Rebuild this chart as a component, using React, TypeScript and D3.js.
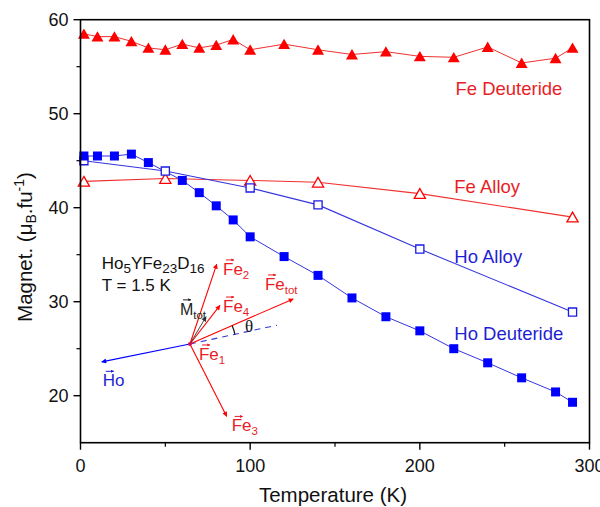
import React from 'react'
import * as d3 from 'd3'

const feDeutT = [2, 10, 20, 30, 40, 50, 60, 70, 80, 90, 100, 120, 140, 160, 180, 200, 220, 240, 260, 280, 290]
const feDeutM = [58.5, 58.2, 58.2, 57.7, 57.0, 56.8, 57.4, 57.0, 57.3, 57.9, 56.8, 57.4, 56.8, 56.3, 56.6, 56.1, 56.0, 57.1, 55.4, 55.9, 57.0]
const hoDeutT = [2, 10, 20, 30, 40, 60, 70, 80, 90, 100, 120, 140, 160, 180, 200, 220, 240, 260, 280, 290]
const hoDeutM = [45.5, 45.5, 45.5, 45.7, 44.8, 42.9, 41.6, 40.2, 38.7, 36.9, 34.8, 32.8, 30.4, 28.4, 26.9, 25.0, 23.5, 21.9, 20.4, 19.3]
const alloyT = [2, 50, 100, 140, 200, 290]
const hoAlloyM = [45.0, 43.9, 42.1, 40.3, 35.6, 28.9]
const feAlloyM = [42.8, 43.1, 42.9, 42.7, 41.5, 39.0]

const xTicks = [0, 100, 200, 300]
const xMinor = [50, 150, 250]
const yTicks = [20, 30, 40, 50, 60]
const yMinor = [25, 35, 45, 55]

// inset spin diagram, in data units
const insetOrigin: [number, number] = [64.5, 25.5]
const insetArrows = [
  { tip: [12.5, 23.6], kind: 'blue' },
  { tip: [80.3, 34.0], kind: 'red' },
  { tip: [82.2, 29.6], kind: 'red' },
  { tip: [125.4, 30.3], kind: 'red' },
  { tip: [86.2, 17.8], kind: 'red' },
  { tip: [74.0, 28.4], kind: 'dark' },
]
const dashTip: [number, number] = [115.8, 27.5]
const vecLabels = [
  { base: 'Fe', sub: '2', at: [84.0, 32.85], kind: 'red' },
  { base: 'Fe', sub: 'tot', at: [108.7, 31.25], kind: 'red' },
  { base: 'Fe', sub: '4', at: [84.0, 28.9], kind: 'red' },
  { base: 'Fe', sub: '1', at: [69.8, 23.8], kind: 'red' },
  { base: 'Fe', sub: '3', at: [89.1, 16.2], kind: 'red' },
  { base: 'Ho', sub: '', at: [13.1, 21.0], kind: 'blue' },
  { base: 'M', sub: 'tot', at: [58.6, 28.6], kind: 'dark' },
]
const seriesLabels = [
  { text: 'Fe Deuteride', at: [221, 52.0], kind: 'red' },
  { text: 'Fe Alloy', at: [220.3, 41.6], kind: 'red' },
  { text: 'Ho Alloy', at: [220.3, 34.15], kind: 'blue' },
  { text: 'Ho Deuteride', at: [220.3, 25.9], kind: 'blue' },
]

const W = 600
const H = 507
const margin = { top: 19.7, right: 10.5, bottom: 64.3, left: 80.5 }
const font = 'Liberation Sans, Arial, sans-serif'

const colors: Record<string, string> = { red: '#ff0000', blue: '#0000ff', dark: '#333333' }
const textColors: Record<string, string> = { red: '#e81e26', blue: '#1f1fd2', dark: '#222222' }

export default function App() {
  const x = d3.scaleLinear().domain([0, 300]).range([margin.left, W - margin.right])
  const y = d3.scaleLinear().domain([15, 60]).range([H - margin.bottom, margin.top])
  const line = d3.line<[number, number]>().x(d => x(d[0])).y(d => y(d[1]))

  const feDeut = feDeutT.map((t, i) => [t, feDeutM[i]] as [number, number])
  const hoDeut = hoDeutT.map((t, i) => [t, hoDeutM[i]] as [number, number])
  const hoAlloy = alloyT.map((t, i) => [t, hoAlloyM[i]] as [number, number])
  const feAlloy = alloyT.map((t, i) => [t, feAlloyM[i]] as [number, number])

  const tri = d3.symbol(d3.symbolTriangle, 62)()
  const triOpen = d3.symbol(d3.symbolTriangle, 54)()
  const sq = d3.symbol(d3.symbolSquare, 81)()
  const sqOpen = d3.symbol(d3.symbolSquare, 66)()

  const ox = x(insetOrigin[0])
  const oy = y(insetOrigin[1])
  // theta arc between dashed axis and Fe_tot
  const r = 46
  const a1 = Math.atan2(y(dashTip[1]) - oy, x(dashTip[0]) - ox)
  const tot = insetArrows[3].tip
  const a2 = Math.atan2(y(tot[1]) - oy, x(tot[0]) - ox)
  const arcPath = `M${ox + r * Math.cos(a1)},${oy + r * Math.sin(a1)} A${r},${r} 0 0 0 ${ox + r * Math.cos(a2)},${oy + r * Math.sin(a2)}`

  const x0 = margin.left
  const x1 = W - margin.right
  const y0 = H - margin.bottom
  const y1 = margin.top

  return (
    <svg width={W} height={H} style={{ display: 'block', position: 'absolute', left: 0, top: 0 }} fontFamily={font}>
      <defs>
        {Object.keys(colors).map(k => (
          <marker key={k} id={'head-' + k} viewBox="0 0 10 10" refX="9" refY="5" markerWidth="7" markerHeight="5"
            markerUnits="userSpaceOnUse" orient="auto">
            <path d="M0,0 L10,5 L0,10 z" fill={colors[k]} />
          </marker>
        ))}
        {Object.keys(colors).map(k => (
          <marker key={k} id={'small-' + k} viewBox="0 0 10 10" refX="9" refY="5" markerWidth="4" markerHeight="3"
            markerUnits="userSpaceOnUse" orient="auto">
            <path d="M0,0 L10,5 L0,10 z" fill={textColors[k]} />
          </marker>
        ))}
      </defs>
      <rect width={W} height={H} fill="#fff" />

      {/* lines */}
      <path d={line(feDeut) || ''} fill="none" stroke="#f03030" strokeWidth={1} />
      <path d={line(feAlloy) || ''} fill="none" stroke="#f03030" strokeWidth={1.1} />
      <path d={line(hoAlloy) || ''} fill="none" stroke="#3535e0" strokeWidth={1.1} />
      <path d={line(hoDeut) || ''} fill="none" stroke="#3535e0" strokeWidth={1} />

      {/* markers */}
      {feDeut.map((d, i) => (
        <path key={'fd' + i} d={tri || ''} transform={`translate(${x(d[0])},${y(d[1]) + 1.5})`} fill="#ff0000" />
      ))}
      {feAlloy.map((d, i) => (
        <path key={'fa' + i} d={triOpen || ''} transform={`translate(${x(d[0])},${y(d[1]) + 1.5})`} fill="#fff" stroke="#ff0000" strokeWidth={1.3} />
      ))}
      {hoAlloy.map((d, i) => (
        <path key={'ha' + i} d={sqOpen || ''} transform={`translate(${x(d[0])},${y(d[1])})`} fill="#fff" stroke="#1a1ae6" strokeWidth={1.3} />
      ))}
      {hoDeut.map((d, i) => (
        <path key={'hd' + i} d={sq || ''} transform={`translate(${x(d[0])},${y(d[1])})`} fill="#0000ff" />
      ))}

      {/* series labels */}
      {seriesLabels.map(s => (
        <text key={s.text} x={x(s.at[0])} y={y(s.at[1])} fontSize={18.5} fill={textColors[s.kind]}>{s.text}</text>
      ))}

      {/* inset */}
      <text x={x(12.5)} y={y(33.45)} fontSize={17} fill="#111">
        Ho<tspan fontSize={13.5} dy={3.5}>5</tspan>
        <tspan dy={-3.5}>YFe</tspan><tspan fontSize={13.5} dy={3.5}>23</tspan>
        <tspan dy={-3.5}>D</tspan><tspan fontSize={13.5} dy={3.5}>16</tspan>
      </text>
      <text x={x(12.5)} y={y(31.15)} fontSize={17} fill="#111">T = 1.5 K</text>

      <line x1={ox} y1={oy} x2={x(dashTip[0])} y2={y(dashTip[1])} stroke="#3535e0" strokeWidth={1.1} strokeDasharray="6,5" />
      {insetArrows.map((a, i) => (
        <line key={'ar' + i} x1={ox} y1={oy} x2={x(a.tip[0])} y2={y(a.tip[1])} stroke={colors[a.kind]}
          strokeWidth={a.kind === 'dark' ? 0.9 : 1.1} markerEnd={`url(#head-${a.kind})`} />
      ))}
      <circle cx={ox} cy={oy} r={2} fill="#d0105a" />
      <path d={arcPath} fill="none" stroke="#111" strokeWidth={1.2} />
      <text x={x(97)} y={y(26.8)} fontSize={17} fontFamily="Liberation Serif, serif" fill="#111">θ</text>

      {vecLabels.map((v, i) => {
        const lx = x(v.at[0])
        const ly = y(v.at[1])
        const fs = v.kind === 'dark' ? 16 : 17
        return (
          <g key={'vl' + i}>
            <text x={lx} y={ly} fontSize={fs} fill={textColors[v.kind]}>
              {v.base}
              {v.sub && <tspan fontSize={11.5} dy={4}>{v.sub}</tspan>}
            </text>
            <line x1={lx + 3} y1={ly - 15} x2={lx + 11} y2={ly - 15} stroke={textColors[v.kind]} strokeWidth={1}
              markerEnd={`url(#small-${v.kind})`} />
          </g>
        )
      })}

      {/* frame and axes */}
      <rect x={x0} y={y1} width={x1 - x0} height={y0 - y1} fill="none" stroke="#000" strokeWidth={1.6} />
      {xTicks.map(t => (
        <g key={'xt' + t}>
          <line x1={x(t)} x2={x(t)} y1={y0} y2={y0 + 7} stroke="#000" strokeWidth={1.4} />
          <text x={x(t)} y={471.5} fontSize={18} textAnchor="middle" fill="#111">{t}</text>
        </g>
      ))}
      {xMinor.map(t => (
        <line key={'xm' + t} x1={x(t)} x2={x(t)} y1={y0} y2={y0 + 4} stroke="#000" strokeWidth={1.2} />
      ))}
      {yTicks.map(t => (
        <g key={'yt' + t}>
          <line x1={x0 - 7} x2={x0} y1={y(t)} y2={y(t)} stroke="#000" strokeWidth={1.4} />
          <text x={68.5} y={y(t) + 6.3} fontSize={18} textAnchor="end" fill="#111">{t}</text>
        </g>
      ))}
      {yMinor.map(t => (
        <line key={'ym' + t} x1={x0 - 4} x2={x0} y1={y(t)} y2={y(t)} stroke="#000" strokeWidth={1.2} />
      ))}

      <text x={(x0 + x1) / 2 - 2} y={501.5} fontSize={20.5} textAnchor="middle" fill="#111">Temperature (K)</text>
      <text transform="translate(31.5,247) rotate(-90)" fontSize={20.5} textAnchor="middle" fill="#111">
        Magnet. (μ<tspan fontSize={14} dy={4}>B</tspan>
        <tspan dy={-4}>.fu</tspan><tspan fontSize={14} dy={-8}>-1</tspan>
        <tspan dy={8}>)</tspan>
      </text>
    </svg>
  )
}
